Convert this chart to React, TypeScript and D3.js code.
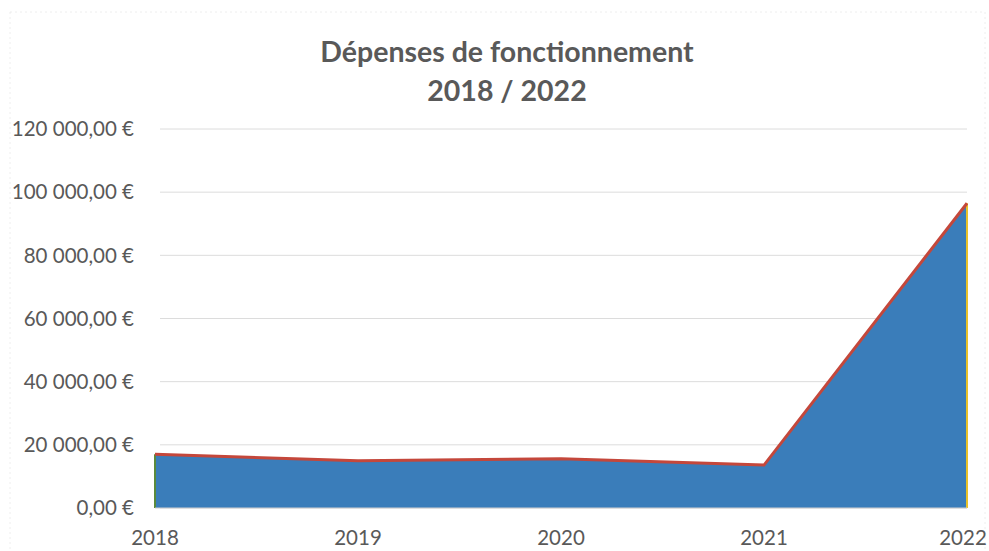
import * as d3 from "d3";

const years = ["2018", "2019", "2020", "2021", "2022"];
const values = [17000, 15000, 15600, 13600, 96500];
const yTicks = [0, 20000, 40000, 60000, 80000, 100000, 120000];

const W = 989;
const H = 551;
const MARGIN = { top: 129, right: 22, bottom: 43, left: 155 };

const fmt = (v: number) =>
  d3.format(",.2f")(v).replace(/,/g, " ").replace(".", ",") + " €";

export default function App() {
  const boundsW = W - MARGIN.left - MARGIN.right;
  const boundsH = H - MARGIN.top - MARGIN.bottom;

  const x = d3.scalePoint<string>().domain(years).range([0, boundsW]);
  const y = d3.scaleLinear().domain([0, 120000]).range([boundsH, 0]);

  const pts = years.map((yr, i) => ({ yr, v: values[i] }));
  const area = d3
    .area<{ yr: string; v: number }>()
    .x((d) => x(d.yr)!)
    .y0(y(0))
    .y1((d) => y(d.v));
  const line = d3
    .line<{ yr: string; v: number }>()
    .x((d) => x(d.yr)!)
    .y((d) => y(d.v));

  const first = pts[0];
  const last = pts[pts.length - 1];
  // keep the last year label inside the picture
  const labelX = (yr: string) => Math.min(x(yr)!, W - MARGIN.left - 26);

  return (
    <svg
      width={W}
      height={H}
      style={{ position: "absolute", left: 0, top: 0, background: "#fff" }}
      fontFamily="Lato, 'Open Sans', sans-serif"
    >
      <rect x={10} y={12} width={W - 14} height={H - 10} fill="none" stroke="#eeeeee" strokeDasharray="2,3" />
      <text x={507} y={62} textAnchor="middle" fontSize={28.5} fontWeight="bold" fill="#595959">
        Dépenses de fonctionnement
      </text>
      <text x={507} y={101} textAnchor="middle" fontSize={28.5} fontWeight="bold" fill="#595959">
        2018 / 2022
      </text>
      <g transform={`translate(${MARGIN.left},${MARGIN.top})`}>
        {yTicks.map((t) => (
          <g key={t}>
            <line x1={5} x2={boundsW} y1={y(t)} y2={y(t)} stroke="#dcdcdc" strokeWidth={1} />
            <text x={-21} y={y(t)} dy="0.35em" textAnchor="end" fontSize={20.5} fill="#595959">
              {fmt(t)}
            </text>
          </g>
        ))}
        <path d={area(pts)!} fill="#3a7dba" />
        <line x1={x(first.yr)} x2={x(first.yr)} y1={y(0)} y2={y(first.v)} stroke="#5a8a3c" strokeWidth={2} />
        <line x1={x(last.yr)} x2={x(last.yr)} y1={y(0)} y2={y(last.v)} stroke="#e8c22a" strokeWidth={2} />
        <path d={line(pts)!} fill="none" stroke="#c4473b" strokeWidth={3} />
        <line x1={0} x2={boundsW} y1={y(0)} y2={y(0)} stroke="#d0d0d0" strokeWidth={1} />
        {years.map((yr) => (
          <text key={yr} x={labelX(yr)} y={boundsH + 37} textAnchor="middle" fontSize={20.5} fill="#595959">
            {yr}
          </text>
        ))}
      </g>
    </svg>
  );
}
